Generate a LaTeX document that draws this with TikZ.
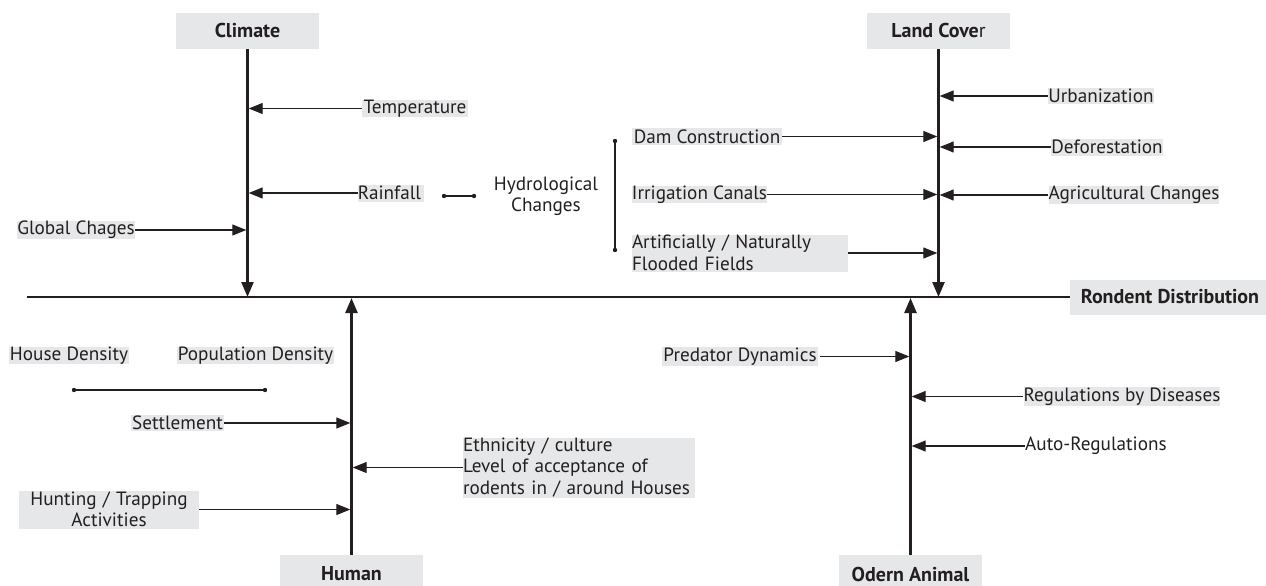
\documentclass[tikz,border=0pt]{standalone}
\usepackage{fontspec}
\setmainfont{PT Sans}
\usetikzlibrary{arrows.meta}
\definecolor{ink}{HTML}{231F20}
\definecolor{boxgray}{HTML}{E6E7E8}
\begin{document}
\begin{tikzpicture}[x=1pt,y=-1pt,
  font=\fontsize{19.2}{21.5}\selectfont, text=ink,
  lbl/.style={fill=boxgray, inner sep=0pt},
  plain/.style={inner sep=0pt},
  head/.style={fill=boxgray, inner sep=0pt, font=\fontsize{20}{22}\selectfont\bfseries, minimum width=143pt, minimum height=36pt},
  mainline/.style={line width=2.4pt, draw=ink},
  thinline/.style={line width=1.1pt, draw=ink},
  arr/.style={thinline, -{Triangle[length=14pt,width=11pt]}, shorten >=1.2pt},
  bigarr/.style={mainline, -{Triangle[length=15pt,width=12pt]}},
  dotend/.style={fill=ink}
]
\clip (0,0) rectangle (1266,586);
\fill[white] (0,0) rectangle (1266,586);

% headers
\node[head] (climate) at (247.5,31) {Climate};
\node[head] (land) at (938.5,31) {Land Cove\textmd{r}};
\node[head, minimum height=38pt] (human) at (351.5,574) {Human};
\node[head, minimum height=38pt] (animal) at (910.5,574) {Odern Animal};
\node[head, minimum width=200pt, minimum height=35pt] (rond) at (1170,297) {Rondent Distribution};

% spine
\coordinate (L) at (27,297);
\draw[mainline] (L) -- (rond.west);
\draw[bigarr] (climate.south) -- (climate.south |- L);
\draw[bigarr] (land.south) -- (land.south |- L);
\draw[bigarr, shorten >=1pt] (human.north) -- (human.north |- L);
\draw[bigarr, shorten >=1pt] (animal.north) -- (animal.north |- L);

% climate factors
\node[lbl, minimum width=106pt, minimum height=17pt] (temp) at (415,108.5) {Temperature};
\node[lbl, minimum width=62pt, minimum height=17pt] (rain) at (391,193) {Rainfall\,};
\node[lbl, minimum width=118pt, minimum height=17pt] (glob) at (76,230) {Global Chages};
\draw[arr] (temp.west) -- (temp.west -| climate.south);
\draw[arr] (rain.west) -- (rain.west -| climate.south);
\draw[arr] (glob.east) -- (glob.east -| climate.south);

% hydrological
\coordinate (hA) at (444,196);
\coordinate (hB) at (474,196);
\draw[thinline] (hA) -- (hB);
\fill[dotend] (hA) circle[radius=2.2pt];
\fill[dotend] (hB) circle[radius=2.2pt];
\node[plain, align=center] (hydro) at (546,196) {Hydrological\\Changes};
\coordinate (bA) at (615,141);
\coordinate (bB) at (615,250);
\draw[thinline] (bA) -- (bB);
\fill[dotend] (bA) circle[radius=2.2pt];
\fill[dotend] (bB) circle[radius=2.2pt];

% land cover factors
\node[lbl, minimum width=150pt, minimum height=17pt] (dam) at (707,136.5) {Dam Construction};
\node[lbl, minimum width=133pt, minimum height=17pt] (irr) at (699.5,194.5) {Irrigation Canals};
\node[lbl, text width=216pt, align=left, minimum height=37pt] (flood) at (740,253) {Artificially / Naturally\\Flooded Fields};
\draw[arr] (dam.east) -- (dam.east -| land.south);
\draw[arr] (irr.east) -- (irr.east -| land.south);
\draw[arr] (flood.east) -- (flood.east -| land.south);
\node[lbl, minimum width=106pt, minimum height=16pt] (urb) at (1101,96) {Urbanization};
\node[lbl, minimum width=112pt, minimum height=17pt] (defo) at (1107,147) {Deforestation};
\node[lbl, minimum width=170pt, minimum height=16pt] (agri) at (1134,195) {Agricultural Changes};
\draw[arr] (urb.west) -- (urb.west -| land.south);
\draw[arr] (defo.west) -- (defo.west -| land.south);
\draw[arr] (agri.west) -- (agri.west -| land.south);

% human factors
\node[lbl, minimum width=120pt, minimum height=17pt] (house) at (69,355.5) {House Density};
\node[lbl, minimum width=157pt, minimum height=17pt] (pop) at (255.5,355.5) {Population Density};
\coordinate (pA) at (74,390);
\coordinate (pB) at (265,390);
\draw[thinline] (pA) -- (pB);
\fill[dotend] (pA) circle[radius=2.2pt];
\fill[dotend] (pB) circle[radius=2.2pt];
\node[lbl, minimum width=93pt, minimum height=16pt] (settle) at (177.5,423) {Settlement};
\node[lbl, text width=232pt, align=left, minimum height=60pt] (eth) at (579,467.5) {Ethnicity / culture\\Level of acceptance of\\rodents in / around Houses};
\node[lbl, text width=180pt, align=center, minimum height=38pt] (hunt) at (109,509.5) {Hunting / Trapping\\Activities};
\draw[arr] (settle.east) -- (settle.east -| human.north);
\draw[arr] (eth.west) -- (eth.west -| human.north);
\draw[arr] (hunt.east) -- (hunt.east -| human.north);

% animal factors
\node[lbl, minimum width=156pt, minimum height=19pt] (pred) at (740,356.5) {Predator Dynamics};
\node[lbl, minimum width=194pt, minimum height=19pt] (dis) at (1122,396.5) {Regulations by Diseases};
\node[plain, anchor=west] (auto) at (1025,446) {Auto-Regulations};
\draw[arr] ([xshift=2pt]pred.east) -- (pred.east -| animal.north);
\draw[arr] (dis.west) -- (dis.west -| animal.north);
\draw[arr] (auto.west) -- (auto.west -| animal.north);
\end{tikzpicture}
\end{document}
